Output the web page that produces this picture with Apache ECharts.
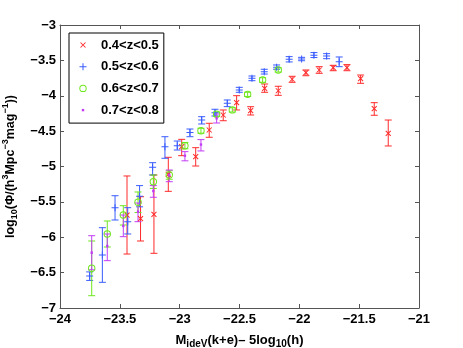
<!DOCTYPE html>
<html>
<head>
<meta charset="utf-8">
<script src="https://cdn.jsdelivr.net/npm/echarts@6/dist/echarts.min.js"></script>
<style>
  html, body { margin: 0; padding: 0; background: #fff; }
  #chart { width: 463px; height: 348px; }
</style>
</head>
<body>
<div id="chart"></div>
<script>
// 0.4<z<0.5
var redX  = [-23.44, -23.327, -23.215, -23.095, -22.983, -22.866, -22.753, -22.636, -22.524, -22.407, -22.29, -22.176, -22.06, -21.945, -21.834, -21.717, -21.602, -21.488, -21.374, -21.257];
var redY  = [-5.686, -5.738, -5.676, -5.11, -4.72, -4.861, -4.484, -4.272, -4.098, -4.211, -3.895, -3.929, -3.767, -3.674, -3.636, -3.603, -3.603, -3.759, -4.183, -4.531];
var redLo = [-6.237, -6.053, -6.227, -5.351, -4.847, -4.993, -4.587, -4.353, -4.201, -4.272, -3.951, -3.994, -3.81, -3.717, -3.683, -3.646, -3.646, -3.824, -4.276, -4.71];
var redHi = [-5.134, -5.427, -5.12, -4.87, -4.616, -4.734, -4.389, -4.201, -3.999, -4.155, -3.834, -3.866, -3.725, -3.636, -3.589, -3.57, -3.56, -3.707, -4.098, -4.343];

// 0.5<z<0.6
var blueX  = [-23.752, -23.646, -23.54, -23.434, -23.335, -23.226, -23.123, -23.02, -22.914, -22.816, -22.705, -22.602, -22.502, -22.396, -22.293, -22.19, -22.085, -21.981, -21.878, -21.772, -21.667];
var blueY  = [-6.548, -6.251, -5.582, -5.78, -5.42, -5.01, -4.72, -4.706, -4.52, -4.343, -4.24, -4.107, -3.919, -3.754, -3.66, -3.598, -3.485, -3.48, -3.428, -3.438, -3.518];
var blueLo = [-6.61, -6.637, -5.756, -5.954, -5.57, -5.12, -4.884, -4.767, -4.579, -4.399, -4.286, -4.154, -3.951, -3.787, -3.693, -3.626, -3.522, -3.505, -3.46, -3.476, -3.589];
var blueHi = [-6.49, -5.865, -5.413, -5.582, -5.27, -4.946, -4.579, -4.64, -4.47, -4.296, -4.191, -4.06, -3.881, -3.721, -3.626, -3.565, -3.447, -3.457, -3.39, -3.405, -3.452];

// 0.6<z<0.7
var greenX  = [-23.735, -23.605, -23.471, -23.348, -23.22, -23.087, -22.956, -22.822, -22.691, -22.56, -22.432, -22.307, -22.176];
var greenY  = [-6.439, -5.954, -5.686, -5.506, -5.215, -5.12, -4.706, -4.494, -4.26, -4.2, -3.98, -3.777, -3.636];
var greenLo = [-6.826, -6.138, -5.827, -5.65, -5.31, -5.18, -4.75, -4.53, -4.29, -4.23, -4.01, -3.81, -3.665];
var greenHi = [-6.053, -5.77, -5.554, -5.36, -5.12, -5.06, -4.66, -4.46, -4.23, -4.17, -3.95, -3.745, -3.605];

// 0.7<z<0.8
var magX  = [-23.735, -23.605, -23.471, -23.348, -23.22, -23.087, -22.956, -22.822, -22.691];
var magY  = [-6.218, -6.124, -5.841, -5.639, -5.346, -5.12, -4.847, -4.69, -4.319];
var magLo = [-6.46, -6.331, -5.992, -5.78, -5.435, -5.215, -4.92, -4.78, -4.385];
var magHi = [-5.978, -5.954, -5.686, -5.516, -5.27, -5.05, -4.79, -4.62, -4.258];

var seriesNames = ['0.4<z<0.5', '0.5<z<0.6', '0.6<z<0.7', '0.7<z<0.8'];
var colors = ['#ff2a2a', '#3a5cff', '#6ee61e', '#c23cf5'];

// symbols drawn in a 10x10 frame (first two moves fix the frame)
var symX = 'path://M0,0 M10,10 M2.85,2.15 L7.85,7.15 L7.15,7.85 L2.15,2.85 Z M7.15,2.15 L7.85,2.85 L2.85,7.85 L2.15,7.15 Z';
var symPlus = 'path://M0,0 M10,10 M1.5,4.5 L8.5,4.5 L8.5,5.5 L1.5,5.5 Z M4.5,1.5 L5.5,1.5 L5.5,8.5 L4.5,8.5 Z';
var symRing = 'path://M0,0 M10,10 M1.3,5 A3.7,3.7 0 1 0 8.7,5 A3.7,3.7 0 1 0 1.3,5 Z M2.3,5 A2.7,2.7 0 1 1 7.7,5 A2.7,2.7 0 1 1 2.3,5 Z';
var symDot = 'path://M0,0 M10,10 M3.8,3.8 L6.2,3.8 L6.2,6.2 L3.8,6.2 Z';

var FONT = '"Liberation Sans", Arial, Helvetica, sans-serif';

function zip(xs, ys) {
  return xs.map(function (x, i) { return [x, ys[i]]; });
}

function errorSeries(xs, lo, hi, color) {
  return {
    type: 'custom',
    name: 'err',
    silent: true,
    z: 2,
    renderItem: function (params, api) {
      var x = api.value(0);
      var top = api.coord([x, api.value(2)]);
      var bot = api.coord([x, api.value(1)]);
      var w = 3.5;
      var st = { stroke: color, lineWidth: 1 };
      return {
        type: 'group',
        children: [
          { type: 'line', shape: { x1: top[0], y1: top[1], x2: bot[0], y2: bot[1] }, style: st },
          { type: 'line', shape: { x1: top[0] - w, y1: top[1], x2: top[0] + w, y2: top[1] }, style: st },
          { type: 'line', shape: { x1: bot[0] - w, y1: bot[1], x2: bot[0] + w, y2: bot[1] }, style: st }
        ]
      };
    },
    encode: { x: 0, y: [1, 2] },
    data: xs.map(function (x, i) { return [x, lo[i], hi[i]]; })
  };
}

function pointSeries(name, xs, ys, symbol, color) {
  return {
    type: 'scatter',
    name: name,
    symbol: symbol,
    symbolSize: 10,
    z: 3,
    itemStyle: { color: color, opacity: 1 },
    emphasis: { disabled: true },
    data: zip(xs, ys)
  };
}

var minusFmt = function (v) { return String(v).replace('-', '\u2212'); };

var chart = echarts.init(document.getElementById('chart'));

chart.setOption({
  animation: false,
  backgroundColor: '#fff',
  textStyle: { fontFamily: FONT },
  grid: { left: 60, right: 44, top: 25, bottom: 40, containLabel: false, outerBoundsMode: 'none' },
  legend: {
    data: seriesNames,
    orient: 'vertical',
    left: 69,
    top: 33,
    padding: [5, 5, 6, 9],
    itemWidth: 26,
    itemHeight: 10,
    itemGap: 7.7,
    backgroundColor: '#fff',
    borderColor: '#000',
    borderWidth: 1,
    borderRadius: 0,
    selectedMode: false,
    textStyle: { fontFamily: FONT, fontSize: 13, fontWeight: 'bold', color: '#000', lineHeight: 14 }
  },
  xAxis: [{
    type: 'value',
    min: -24,
    max: -21,
    interval: 0.5,
    name: 'M{sub|ideV}(k+e)\u2013 5log{sub|10}(h)',
    nameLocation: 'middle',
    nameGap: 23,
    nameTextStyle: {
      fontFamily: FONT, fontSize: 13, fontWeight: 'bold', color: '#000', lineHeight: 18,
      rich: { sub: { fontFamily: FONT, fontSize: 10, fontWeight: 'bold', color: '#000', lineHeight: 10, verticalAlign: 'bottom' } }
    },
    axisLine: { show: true, onZero: false, lineStyle: { color: '#555', width: 1 } },
    axisTick: { show: true, inside: true, length: 4, lineStyle: { color: '#555' } },
    axisLabel: { margin: 5, fontFamily: FONT, fontSize: 13, fontWeight: 'bold', color: '#000', formatter: minusFmt },
    splitLine: { show: false }
  }, {
    type: 'value',
    position: 'top',
    min: -24,
    max: -21,
    interval: 0.5,
    axisLine: { show: true, onZero: false, lineStyle: { color: '#555', width: 1 } },
    axisTick: { show: true, inside: true, length: 4, lineStyle: { color: '#555' } },
    axisLabel: { show: false },
    splitLine: { show: false }
  }],
  yAxis: [{
    type: 'value',
    min: -7,
    max: -3,
    interval: 0.5,
    name: 'log{sub|10}(\u03A6/(h{sup|3}Mpc{sup|\u22123}mag{sup|\u22121}))',
    nameLocation: 'middle',
    nameGap: 40,
    nameTextStyle: {
      fontFamily: FONT, fontSize: 12.5, fontWeight: 'bold', color: '#000', lineHeight: 18,
      rich: {
        sub: { fontFamily: FONT, fontSize: 9, fontWeight: 'bold', color: '#000', lineHeight: 10, verticalAlign: 'bottom' },
        sup: { fontFamily: FONT, fontSize: 9, fontWeight: 'bold', color: '#000', lineHeight: 10, verticalAlign: 'top' }
      }
    },
    axisLine: { show: true, onZero: false, lineStyle: { color: '#555', width: 1 } },
    axisTick: { show: true, inside: true, length: 4, lineStyle: { color: '#555' } },
    axisLabel: { margin: 4, fontFamily: FONT, fontSize: 13, fontWeight: 'bold', color: '#000', formatter: minusFmt },
    splitLine: { show: false }
  }, {
    type: 'value',
    position: 'right',
    min: -7,
    max: -3,
    interval: 0.5,
    axisLine: { show: true, onZero: false, lineStyle: { color: '#555', width: 1 } },
    axisTick: { show: true, inside: true, length: 4, lineStyle: { color: '#555' } },
    axisLabel: { show: false },
    splitLine: { show: false }
  }],
  series: [
    errorSeries(redX, redLo, redHi, colors[0]),
    pointSeries(seriesNames[0], redX, redY, symX, colors[0]),
    errorSeries(blueX, blueLo, blueHi, colors[1]),
    pointSeries(seriesNames[1], blueX, blueY, symPlus, colors[1]),
    errorSeries(greenX, greenLo, greenHi, colors[2]),
    pointSeries(seriesNames[2], greenX, greenY, symRing, colors[2]),
    errorSeries(magX, magLo, magHi, colors[3]),
    pointSeries(seriesNames[3], magX, magY, symDot, colors[3])
  ]
});
</script>
</body>
</html>
